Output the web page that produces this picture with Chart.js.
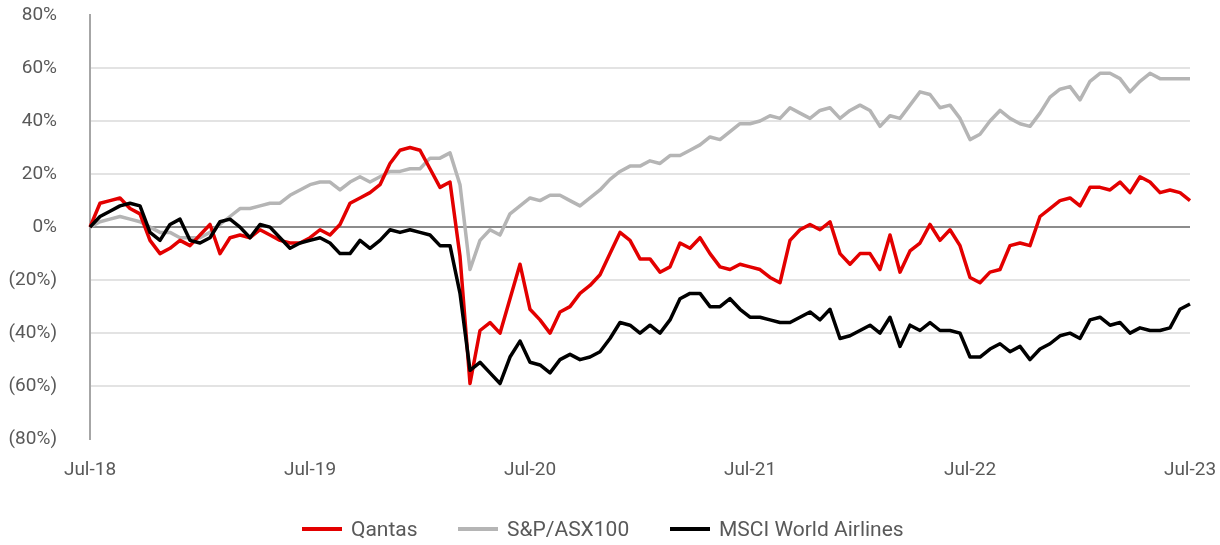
<!DOCTYPE html>
<html>
<head>
<meta charset="utf-8">
<script src="https://cdn.jsdelivr.net/npm/chart.js@4/dist/chart.umd.min.js"></script>
<style>
  html, body { margin: 0; padding: 0; background: #fff; }
  #wrap { position: relative; width: 1220px; height: 545px; }
  #legend { font-family: Roboto, sans-serif; font-size: 21px; color: #595959; }
  #legend .item { position: absolute; top: 516px; height: 26px; display: flex; align-items: center; white-space: nowrap; }
  #legend .swatch { width: 40px; height: 4px; margin-right: 9px; }
</style>
</head>
<body>
<div id="wrap">
  <canvas id="perfChart" width="1220" height="545"></canvas>
  <div id="legend"></div>
</div>
<script>
// x axis tick labels (one every 22 samples, samples roughly every 2.4 weeks)
const xTickLabels = ["Jul-18", "Jul-19", "Jul-20", "Jul-21", "Jul-22", "Jul-23"];
const samplesPerYear = 22;

// cumulative return (%)
const qantas = [
  0, 9, 10, 11, 7, 5, -5, -10, -8, -5,
  -7, -3, 1, -10, -4, -3, -4, -1, -3, -5,
  -6, -6, -4, -1, -3, 1, 9, 11, 13, 16,
  24, 29, 30, 29, 22, 15, 17, -11, -59, -39,
  -36, -40, -27, -14, -31, -35, -40, -32, -30, -25,
  -22, -18, -10, -2, -5, -12, -12, -17, -15, -6,
  -8, -4, -10, -15, -16, -14, -15, -16, -19, -21,
  -5, -1, 1, -1, 2, -10, -14, -10, -10, -16,
  -3, -17, -9, -6, 1, -5, -1, -7, -19, -21,
  -17, -16, -7, -6, -7, 4, 7, 10, 11, 8,
  15, 15, 14, 17, 13, 19, 17, 13, 14, 13,
  10
];
const asx100 = [
  0, 2, 3, 4, 3, 2, 0, -2, -2, -4,
  -4, -4, -2, 1, 4, 7, 7, 8, 9, 9,
  12, 14, 16, 17, 17, 14, 17, 19, 17, 19,
  21, 21, 22, 22, 26, 26, 28, 16, -16, -5,
  -1, -3, 5, 8, 11, 10, 12, 12, 10, 8,
  11, 14, 18, 21, 23, 23, 25, 24, 27, 27,
  29, 31, 34, 33, 36, 39, 39, 40, 42, 41,
  45, 43, 41, 44, 45, 41, 44, 46, 44, 38,
  42, 41, 46, 51, 50, 45, 46, 41, 33, 35,
  40, 44, 41, 39, 38, 43, 49, 52, 53, 48,
  55, 58, 58, 56, 51, 55, 58, 56, 56, 56,
  56
];
const msciAirlines = [
  0, 4, 6, 8, 9, 8, -2, -5, 1, 3,
  -5, -6, -4, 2, 3, 0, -4, 1, 0, -4,
  -8, -6, -5, -4, -6, -10, -10, -5, -8, -5,
  -1, -2, -1, -2, -3, -7, -7, -25, -54, -51,
  -55, -59, -49, -43, -51, -52, -55, -50, -48, -50,
  -49, -47, -42, -36, -37, -40, -37, -40, -35, -27,
  -25, -25, -30, -30, -27, -31, -34, -34, -35, -36,
  -36, -34, -32, -35, -31, -42, -41, -39, -37, -40,
  -34, -45, -37, -39, -36, -39, -39, -40, -49, -49,
  -46, -44, -47, -45, -50, -46, -44, -41, -40, -42,
  -35, -34, -37, -36, -40, -38, -39, -39, -38, -31,
  -29
];

const seriesNames = ["Qantas", "S&P/ASX100", "MSCI World Airlines"];
const seriesColors = ["#e30000", "#b5b5b5", "#000000"];
const legendLeft = [302, 458, 670];

document.addEventListener("DOMContentLoaded", function () {
    const canvas = document.getElementById("perfChart");
    const labels = qantas.map((_, i) => i);

    function makeSet(idx, data, order) {
        return {
            label: seriesNames[idx],
            data: data,
            borderColor: seriesColors[idx],
            backgroundColor: seriesColors[idx],
            borderWidth: 3.5,
            borderJoinStyle: "round",
            pointRadius: 0,
            tension: 0,
            order: order
        };
    }

    const tickFont = { family: "Roboto", size: 19 };

    new Chart(canvas, {
        type: "line",
        data: {
            labels: labels,
            datasets: [
                makeSet(0, qantas, 2),
                makeSet(1, asx100, 3),
                makeSet(2, msciAirlines, 1)
            ]
        },
        options: {
            responsive: false,
            animation: false,
            layout: { padding: { top: 15, right: 30, bottom: 60, left: 0 } },
            plugins: {
                tooltip: { enabled: false },
                legend: { display: false }
            },
            scales: {
                x: {
                    type: "category",
                    offset: false,
                    // invisible tick marks just push the labels down
                    grid: { display: true, drawOnChartArea: false, drawTicks: true, tickLength: 17, color: "rgba(0,0,0,0)" },
                    border: { display: false },
                    ticks: {
                        autoSkip: false,
                        maxRotation: 0,
                        padding: 3,
                        color: "#595959",
                        font: tickFont,
                        callback: function (val, index) {
                            return index % samplesPerYear === 0 ? xTickLabels[index / samplesPerYear] : "";
                        }
                    }
                },
                y: {
                    min: -80,
                    max: 80,
                    afterFit: function (scale) { scale.width = 90; },
                    border: { display: true, color: "#a6a6a6", width: 2 },
                    grid: {
                        drawTicks: true,
                        tickLength: 30,
                        tickColor: "rgba(0,0,0,0)",
                        lineWidth: 2,
                        color: function (ctx) {
                            const v = ctx.tick.value;
                            if (v === 0) return "#8c8c8c";
                            if (Math.abs(v) === 80) return "rgba(0,0,0,0)";
                            return "#e3e3e3";
                        }
                    },
                    ticks: {
                        stepSize: 20,
                        padding: 3,
                        color: "#595959",
                        font: tickFont,
                        callback: v => v < 0 ? "(" + (-v) + "%)" : v + "%"
                    }
                }
            }
        }
    });

    // legend as html
    const legend = document.getElementById("legend");
    seriesNames.forEach((name, i) => {
        const item = document.createElement("div");
        item.className = "item";
        item.style.left = legendLeft[i] + "px";
        const sw = document.createElement("span");
        sw.className = "swatch";
        sw.style.background = seriesColors[i];
        const txt = document.createElement("span");
        txt.textContent = name;
        item.appendChild(sw);
        item.appendChild(txt);
        legend.appendChild(item);
    });
});
</script>
</body>
</html>
